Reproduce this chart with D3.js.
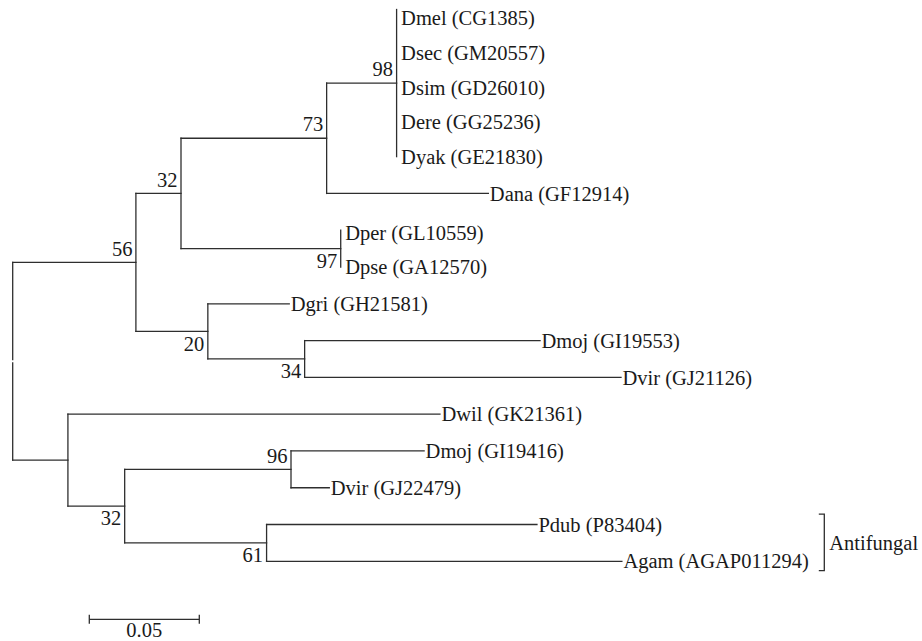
<!DOCTYPE html>
<html>
<head>
<meta charset="utf-8">
<script src="https://cdn.jsdelivr.net/npm/d3@7"></script>
<style>
  html, body { margin: 0; padding: 0; background: #fff; }
  svg { display: block; }
</style>
</head>
<body>
<svg id="chart" width="922" height="641"></svg>
<script>
// ---- Data ----
const nodeIds = ["root","n56","n32a","n73","n98","Dmel","Dsec","Dsim","Dere","Dyak","Dana",
  "n97","Dper","Dpse","n20","Dgri","n34","Dmoj1","Dvir1",
  "nL","Dwil","n32b","n96","Dmoj2","Dvir2","n61","Pdub","Agam"];
const parentIds = ["","root","n56","n32a","n73","n98","n98","n98","n98","n98","n73",
  "n32a","n97","n97","n56","n20","n20","n34","n34",
  "root","nL","nL","n32b","n96","n96","n32b","n61","n61"];
const branchLengths = [0,0.0560,0.0205,0.0662,0.0318,0,0,0,0,0,0.0735,
  0.0726,0,0,0.0327,0.0370,0.0440,0.1070,0.1438,
  0.0251,0.1691,0.0258,0.0756,0.0605,0.0174,0.0645,0.1229,0.1615];
const supportValues = [null,56,32,73,98,null,null,null,null,null,null,
  97,null,null,20,null,34,null,null,
  null,null,32,96,null,null,61,null,null];
const supportSide = ["","above","above","above","above","","","","","","",
  "below","","","below","","below","","",
  "","","below","above","","","below","",""];
const leafLabels = {
  Dmel:"Dmel (CG1385)", Dsec:"Dsec (GM20557)", Dsim:"Dsim (GD26010)", Dere:"Dere (GG25236)",
  Dyak:"Dyak (GE21830)", Dana:"Dana (GF12914)", Dper:"Dper (GL10559)", Dpse:"Dpse (GA12570)",
  Dgri:"Dgri (GH21581)", Dmoj1:"Dmoj (GI19553)", Dvir1:"Dvir (GJ21126)", Dwil:"Dwil (GK21361)",
  Dmoj2:"Dmoj (GI19416)", Dvir2:"Dvir (GJ22479)", Pdub:"Pdub (P83404)", Agam:"Agam (AGAP011294)"
};
const scaleBarValue = 0.05;
const groupLabel = "Antifungal";
const groupMembers = ["Pdub","Agam"];

// ---- Layout ----
const svg = d3.select("#chart");
const rows = nodeIds.map((id,i)=>({id, parent: parentIds[i] || null, length: branchLengths[i],
  support: supportValues[i], side: supportSide[i]}));
const root = d3.stratify().id(d=>d.id).parentId(d=>d.parent)(rows);
root.eachBefore(n => { n.dist = (n.parent ? n.parent.dist : 0) + n.data.length; });

const leaves = root.leaves();
const x = d3.scaleLinear().domain([0, 1]).range([12.7, 12.7 + 2200]);
const y = d3.scaleLinear().domain([0, leaves.length - 1]).range([9.5, 561.3]);
leaves.forEach((l,i)=>{ l.yPos = y(i); });
root.eachAfter(n => {
  if (n.children) n.yPos = (n.children[0].yPos + n.children[n.children.length-1].yPos) / 2;
  n.xPos = x(n.dist);
});

const stroke = "#2e2e2e", sw = 1.3, txt = "#1a1a1a";
const g = svg.append("g");

// horizontal branches
g.selectAll("line.h").data(root.descendants().filter(n => n.parent && n.data.length > 0))
  .join("line").attr("class","h")
  .attr("x1", n => n.parent.xPos).attr("x2", n => n.xPos)
  .attr("y1", n => n.yPos).attr("y2", n => n.yPos)
  .attr("stroke", stroke).attr("stroke-width", sw).attr("stroke-linecap","square");

// vertical connectors
root.descendants().filter(n => n.children).forEach(n => {
  const y1 = n.children[0].yPos, y2 = n.children[n.children.length-1].yPos;
  const segs = n === root ? [[y1, n.yPos - 1.7], [n.yPos + 1.7, y2]] : [[y1, y2]];
  segs.forEach(s => g.append("line")
    .attr("x1", n.xPos).attr("x2", n.xPos).attr("y1", s[0]).attr("y2", s[1])
    .attr("stroke", stroke).attr("stroke-width", sw).attr("stroke-linecap","square"));
});

function addText(sel) {
  return sel.append("text")
    .style("font-family", '"Liberation Serif"')
    .style("font-size", "20.5px")
    .attr("fill", txt);
}

// leaf labels
leaves.forEach(l => {
  const zeroGroup = l.data.length === 0;
  let ly = l.yPos;
  if (zeroGroup) {
    const sib = l.parent.children;
    const bottom = sib[sib.length-1].yPos;
    ly = l.yPos + (bottom - l.yPos) * 0.058;
  }
  addText(g)
    .attr("x", l.xPos + (zeroGroup ? 4.5 : 1.5))
    .attr("y", ly).attr("dy", "0.35em")
    .text(leafLabels[l.id]);
});

// support values
root.descendants().filter(n => n.data.support != null).forEach(n => {
  addText(g)
    .attr("x", n.xPos - 3.5)
    .attr("y", n.data.side === "above" ? n.yPos - 14 : n.yPos + 12)
    .attr("dy", "0.35em")
    .attr("text-anchor", "end")
    .text(n.data.support);
});

// group bracket
const gm = leaves.filter(l => groupMembers.includes(l.id));
const bx = 824.3, bTop = gm[0].yPos - 10.3, bBot = gm[gm.length-1].yPos + 9.4;
g.append("path")
  .attr("d", `M${bx-5.5},${bTop}H${bx}V${bBot}H${bx-5.5}`)
  .attr("fill","none").attr("stroke", stroke).attr("stroke-width", sw);
addText(g).attr("x", bx + 5).attr("y", (bTop + bBot)/2).attr("dy","0.35em").text(groupLabel);

// scale bar
const sbX = 89.3, sbY = 619.3;
const sbW = x(scaleBarValue) - x(0);
const sb = g.append("g").attr("transform", `translate(${sbX},${sbY})`);
sb.append("line").attr("x1",0).attr("x2",sbW).attr("stroke",stroke).attr("stroke-width",sw);
[0, sbW].forEach(px => sb.append("line").attr("x1",px).attr("x2",px).attr("y1",-4.5).attr("y2",4.5)
  .attr("stroke",stroke).attr("stroke-width",sw));
addText(sb).attr("x", sbW/2).attr("y", 11).attr("dy","0.35em").attr("text-anchor","middle")
  .text(d3.format(".2f")(scaleBarValue));
</script>
</body>
</html>
